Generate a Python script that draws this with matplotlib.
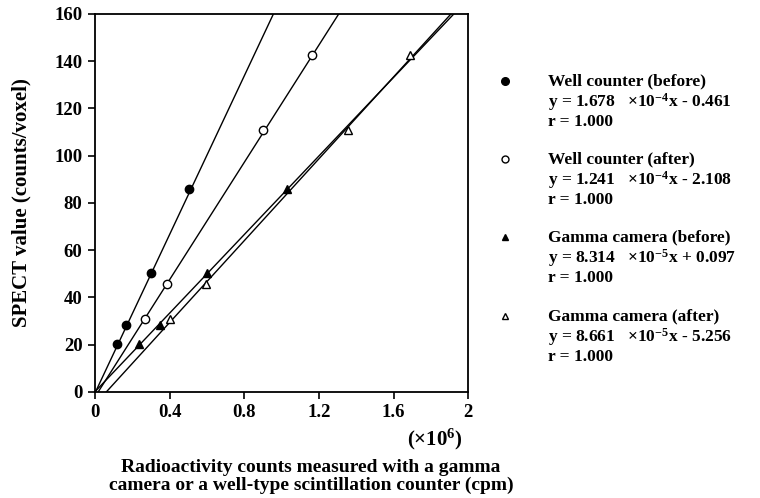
import matplotlib
matplotlib.use("Agg")
import matplotlib.pyplot as plt
import numpy as np

plt.rcParams['font.family'] = ['Liberation Serif', 'DejaVu Serif']
plt.rcParams['font.weight'] = 'bold'
plt.rcParams['mathtext.fontset'] = 'custom'
plt.rcParams['mathtext.rm'] = 'Liberation Serif:bold'
plt.rcParams['mathtext.it'] = 'Liberation Serif:bold'
plt.rcParams['mathtext.bf'] = 'Liberation Serif:bold'

# counts in units of 10^6 cpm, SPECT value in counts/voxel
spect_before = [20.2, 28.5, 50.5, 85.8]
spect_after = [31.0, 45.8, 111.0, 142.8]
well_before_x = [0.12, 0.165, 0.30, 0.506]
well_after_x = [0.268, 0.384, 0.903, 1.165]
gamma_before_x = [0.238, 0.349, 0.602, 1.028]
gamma_after_x = [0.40, 0.595, 1.355, 1.689]

names = ['Well counter (before)', 'Well counter (after)',
         'Gamma camera (before)', 'Gamma camera (after)']
coef = ['1.678', '1.241', '8.314', '8.661']
expo = ['-4', '-4', '-5', '-5']
icpt = ['- 0.461', '- 2.108', '+ 0.097', '- 5.256']
slopes = [167.8, 124.1, 83.14, 86.61]      # per 10^6 cpm
intercepts = [-0.461, -2.108, 0.097, -5.256]

xs = [well_before_x, well_after_x, gamma_before_x, gamma_after_x]
ys = [spect_before, spect_after, spect_before, spect_after]
markers = ['o', 'o', '^', '^']
faces = ['black', 'white', 'black', 'white']
leg_ms = [5.5, 5, 5, 5]

xticks = [0, 0.4, 0.8, 1.2, 1.6, 2]
xticklabels = ['0', '0.4', '0.8', '1.2', '1.6', '2']
yticks = [0, 20, 40, 60, 80, 100, 120, 140, 160]

fig = plt.figure(figsize=(7.6, 4.98), dpi=100)
ax = fig.add_axes([0.125, 0.213, 0.491, 0.759])

for i in range(4):
    a, b = slopes[i], intercepts[i]
    x0 = max(0, -b / a)
    lx = np.array([x0, 2.0])
    ax.plot(lx, a * lx + b, color='black', lw=1.0, zorder=2)
    ax.plot(xs[i], ys[i], linestyle='none', marker=markers[i], ms=6,
            mfc=faces[i], mec='black', mew=1.0, zorder=3)

ax.set_xlim(0, 2)
ax.set_ylim(0, 160)
ax.set_xticks(xticks)
ax.set_xticklabels(xticklabels)
ax.set_yticks(yticks)
ax.tick_params(direction='out', length=5, width=1.2, labelsize=13.5, pad=4)
for s in ax.spines.values():
    s.set_linewidth(1.3)
ax.set_ylabel('SPECT value (counts/voxel)', fontsize=15, fontweight='bold')
ax.yaxis.set_label_coords(-0.17, 0.5)

fig.text(0.572, 0.117, r'$(\times10^{6})$', fontsize=15, ha='center', va='center')
fig.text(0.409, 0.043, 'Radioactivity counts measured with a gamma\n'
         'camera or a well-type scintillation counter (cpm)',
         fontsize=14, ha='center', va='center', linespacing=1.05)

# legend-like annotations
title_y = [81, 159, 237, 316]
for i in range(4):
    yt = title_y[i]
    ax.plot([505 / 760], [1 - yt / 498], transform=fig.transFigure, clip_on=False,
            linestyle='none', marker=markers[i], ms=leg_ms[i], mfc=faces[i],
            mec='black', mew=1.0)
    fig.text(548 / 760, 1 - yt / 498, names[i], fontsize=12.5, va='center', ha='left')
    fig.text(548 / 760, 1 - (yt + 21) / 498,
             'y = ' + coef[i] + r'   $\times10^{' + expo[i] + r'}$x ' + icpt[i],
             fontsize=12.5, va='center', ha='left')
    fig.text(548 / 760, 1 - (yt + 41) / 498, 'r = 1.000', fontsize=12.5, va='center', ha='left')

fig.savefig('out.png', dpi=100)
